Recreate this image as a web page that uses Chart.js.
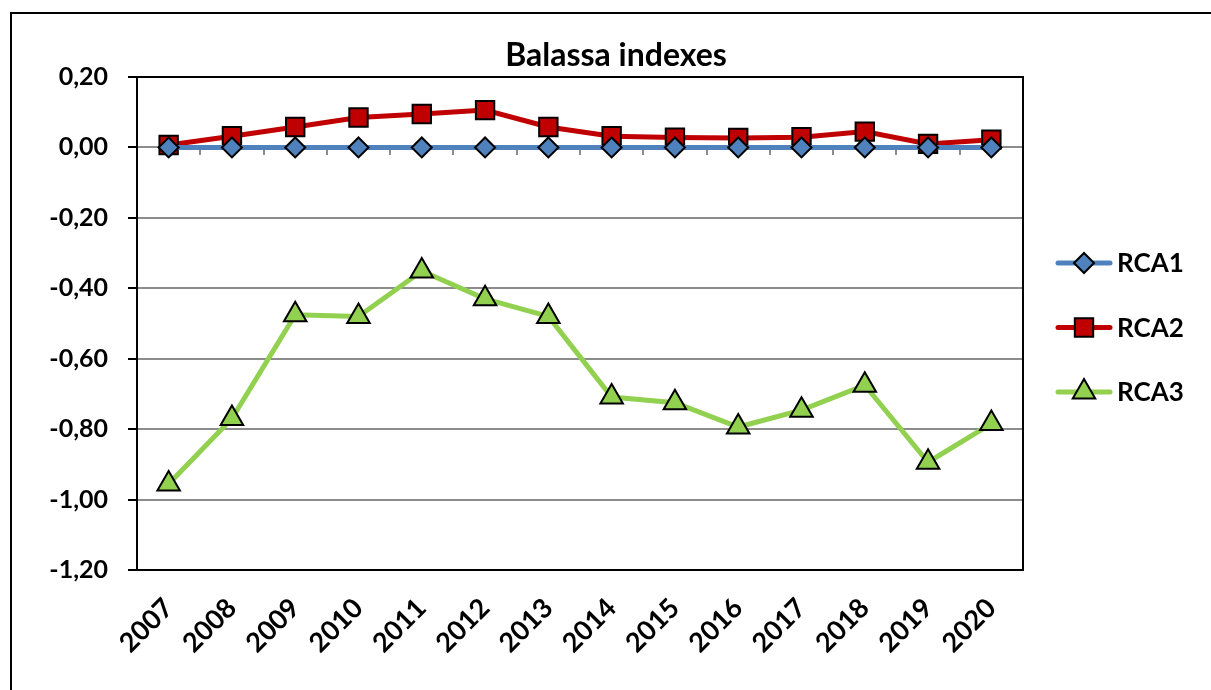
<!DOCTYPE html>
<html>
<head>
<meta charset="utf-8">
<script src="https://cdn.jsdelivr.net/npm/chart.js@4.4.1/dist/chart.umd.min.js"></script>
<style>
    html, body { margin: 0; padding: 0; background: #fff; overflow: hidden; }
    #frame { position: absolute; left: 10px; top: 12px; width: 1300px; height: 800px; border: 2px solid #000; }
    #wrap { position: absolute; left: 0; top: 0; width: 1211px; height: 690px; }
</style>
</head>
<body>
<div id="frame"></div>
<div id="wrap"><canvas id="myChart" width="1211" height="690"></canvas></div>
<script>
// data
var years = ['2007', '2008', '2009', '2010', '2011', '2012', '2013', '2014', '2015', '2016', '2017', '2018', '2019', '2020'];
var rca1 = [0, 0, 0, 0, 0, 0, 0, 0, 0, 0, 0, 0, 0, 0];
var rca2 = [0.007, 0.032, 0.058, 0.085, 0.095, 0.106, 0.058, 0.032, 0.028, 0.027, 0.029, 0.045, 0.010, 0.022];
var rca3 = [-0.956, -0.77, -0.475, -0.48, -0.351, -0.43, -0.48, -0.709, -0.725, -0.794, -0.746, -0.675, -0.894, -0.784];
var seriesNames = ['RCA1', 'RCA2', 'RCA3'];
var chartTitle = 'Balassa indexes';

var FONT = "Lato, 'DejaVu Sans', sans-serif";
var gridGray = '#8c8c8c';

function makeSet(label, values, color, style, radius) {
    return {
        label: label,
        data: values,
        borderColor: color,
        backgroundColor: color,
        borderWidth: 5,
        pointStyle: style,
        pointRadius: radius,
        pointHoverRadius: radius,
        pointBorderColor: '#000',
        pointBorderWidth: 2,
        pointBackgroundColor: color,
        tension: 0
    };
}

// draws black frame round the plot area (top, right, bottom)
var plotBorder = {
    id: 'plotBorder',
    beforeDatasetsDraw: function (chart) {
        var a = chart.chartArea, ctx = chart.ctx;
        ctx.save();
        ctx.strokeStyle = '#000';
        ctx.lineWidth = 2;
        ctx.beginPath();
        ctx.moveTo(a.left, a.top);
        ctx.lineTo(a.right, a.top);
        ctx.lineTo(a.right, a.bottom);
        ctx.lineTo(a.left, a.bottom);
        ctx.stroke();
        ctx.restore();
    }
};

// title + legend drawn on the right like the excel chart
var sideLegend = {
    id: 'sideLegend',
    afterDraw: function (chart) {
        var a = chart.chartArea, ctx = chart.ctx;
        ctx.save();
        ctx.fillStyle = '#000';
        ctx.font = 'bold 32px ' + FONT;
        ctx.textAlign = 'center';
        ctx.textBaseline = 'middle';
        ctx.fillText(chartTitle, 616, a.top - 21);

        chart.data.datasets.forEach(function (ds, i) {
            var y = a.top + 186 + i * 64.5;
            ctx.strokeStyle = ds.borderColor;
            ctx.lineWidth = 5;
            ctx.lineCap = 'round';
            ctx.beginPath();
            ctx.moveTo(a.right + 35, y);
            ctx.lineTo(a.right + 87, y);
            ctx.stroke();
            ctx.fillStyle = ds.pointBackgroundColor;
            ctx.strokeStyle = '#000';
            ctx.lineWidth = 2;
            Chart.helpers.drawPoint(ctx, { pointStyle: ds.pointStyle, radius: ds.pointRadius, borderWidth: 2 }, a.right + 61, y);
            ctx.fillStyle = '#000';
            ctx.font = 'bold 26px ' + FONT;
            ctx.textAlign = 'left';
            ctx.fillText(ds.label, a.right + 94, y + 1);
        });
        ctx.restore();
    }
};

function near(v, t) { return Math.abs(v - t) < 1e-6; }

var ctx = document.getElementById('myChart').getContext('2d');
var myChart = new Chart(ctx, {
    type: 'line',
    data: {
        labels: years,
        datasets: [
            makeSet(seriesNames[0], rca1, '#4f81bd', 'rectRot', 10),
            makeSet(seriesNames[1], rca2, '#c00000', 'rect', 13),
            makeSet(seriesNames[2], rca3, '#92d050', 'triangle', 13)
        ]
    },
    options: {
        responsive: false,
        animation: false,
        layout: { padding: { top: 77, right: 188, left: 0, bottom: 0 } },
        plugins: {
            legend: { display: false },
            title: { display: false },
            tooltip: { enabled: false }
        },
        scales: {
            x: {
                type: 'category',
                offset: true,
                grid: { display: false },
                border: { display: false },
                ticks: {
                    color: '#000',
                    font: { family: FONT, size: 27, weight: 'bold' },
                    maxRotation: 45,
                    minRotation: 45,
                    padding: 14
                },
                afterFit: function (scale) { scale.height = 120; }
            },
            x2: {
                type: 'category',
                position: { y: 0 },
                offset: true,
                grid: { drawOnChartArea: false, drawTicks: true, tickLength: 7, color: gridGray, lineWidth: 2, offset: true },
                border: { display: true, color: gridGray, width: 2 },
                ticks: { display: false }
            },
            y: {
                min: -1.2,
                max: 0.2,
                grid: {
                    color: function (c) {
                        var v = c.tick ? c.tick.value : 0;
                        return (near(v, 0.2) || near(v, -1.2)) ? '#000' : gridGray;
                    },
                    lineWidth: 2,
                    tickColor: '#000',
                    tickLength: 9
                },
                border: { display: true, color: '#000', width: 2 },
                ticks: {
                    stepSize: 0.2,
                    color: '#000',
                    padding: 20,
                    font: { family: FONT, size: 25, weight: 'bold' },
                    callback: function (v) {
                        if (Math.abs(v) < 1e-9) v = 0;
                        return v.toFixed(2).replace('.', ',');
                    }
                },
                afterFit: function (scale) { scale.width = 137; }
            }
        }
    },
    plugins: [plotBorder, sideLegend]
});
</script>
</body>
</html>
